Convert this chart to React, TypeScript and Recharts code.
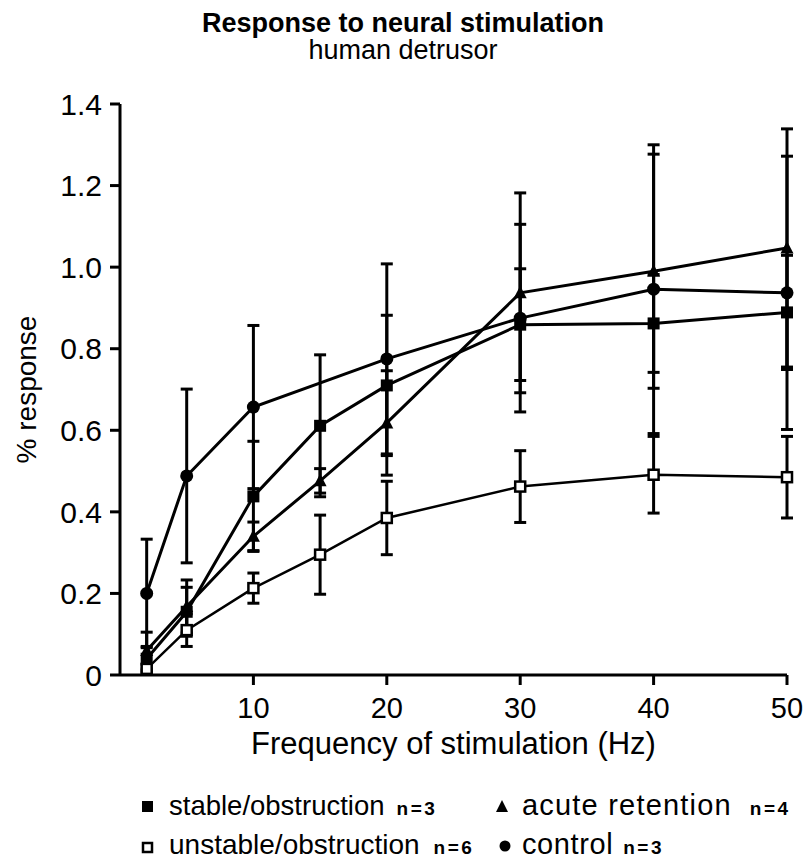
import React from 'react';
import { LineChart, Line, XAxis, YAxis, ErrorBar, Label } from 'recharts';

// ---- data ----
const frequencies = [2, 5, 10, 15, 20, 30, 40, 50];

const stableObstruction = [0.04, 0.155, 0.438, 0.611, 0.71, 0.859, 0.862, 0.889];
const stableObstructionErr = [0.03, 0.06, 0.135, 0.174, 0.172, 0.137, 0.12, 0.14];

const unstableObstruction = [0.015, 0.11, 0.213, 0.295, 0.385, 0.462, 0.491, 0.485];
const unstableObstructionErr = [0.01, 0.04, 0.037, 0.097, 0.09, 0.088, 0.094, 0.1];

const acuteRetention = [0.06, 0.168, 0.34, 0.476, 0.618, 0.937, 0.99, 1.047];
const acuteRetentionErr = [0.045, 0.065, 0.035, 0.03, 0.128, 0.245, 0.287, 0.292];

const control = [0.2, 0.488, 0.657, null, 0.775, 0.875, 0.946, 0.937];
const controlErr = [0.133, 0.213, 0.2, null, 0.233, 0.23, 0.354, 0.335];

const xTicks = [10, 20, 30, 40, 50];
const yTicks = [0, 0.2, 0.4, 0.6, 0.8, 1.0, 1.2, 1.4];

const titleText = 'Response to neural stimulation';
const subtitleText = 'human detrusor';
const xLabelText = 'Frequency of stimulation (Hz)';
const yLabelText = '% response';

const legendItems = [
  { name: 'stable/obstruction', n: 'n=3' },
  { name: 'unstable/obstruction', n: 'n=6' },
  { name: 'acute retention', n: 'n=4' },
  { name: 'control', n: 'n=3' },
];

const data = frequencies.map((f, i) => ({
  freq: f,
  stable: stableObstruction[i],
  stableErr: stableObstructionErr[i],
  unstable: unstableObstruction[i],
  unstableErr: unstableObstructionErr[i],
  acute: acuteRetention[i],
  acuteErr: acuteRetentionErr[i],
  control: control[i],
  controlErr: controlErr[i],
}));

const FONT = '"Liberation Sans", Arial, Helvetica, sans-serif';

const isBad = (p: any) => p.cx == null || p.cy == null || p.value == null || isNaN(p.cx) || isNaN(p.cy);

const dotFilledSquare = (p: any) => {
  if (isBad(p)) return <g key={`fs-${p.index}`} />;
  return <rect key={`fs-${p.index}`} x={p.cx - 6} y={p.cy - 6} width={12} height={12} fill="#000" />;
};
const dotOpenSquare = (p: any) => {
  if (isBad(p)) return <g key={`os-${p.index}`} />;
  return (
    <rect key={`os-${p.index}`} x={p.cx - 5} y={p.cy - 5} width={10} height={10} fill="#fff" stroke="#000" strokeWidth={2.5} />
  );
};
const dotTriangle = (p: any) => {
  if (isBad(p)) return <g key={`tr-${p.index}`} />;
  const { cx, cy } = p;
  return <path key={`tr-${p.index}`} d={`M${cx},${cy - 7} L${cx + 6.5},${cy + 5.5} L${cx - 6.5},${cy + 5.5} Z`} fill="#000" />;
};
const dotCircle = (p: any) => {
  if (isBad(p)) return <g key={`ci-${p.index}`} />;
  return <circle key={`ci-${p.index}`} cx={p.cx} cy={p.cy} r={6.5} fill="#000" />;
};

const yFmt = (v: number) => (v === 0 ? '0' : v.toFixed(1));

const YLabel = (props: any) => {
  const vb = props.viewBox || { x: 0, y: 104, width: 120, height: 571 };
  const cx = 26;
  const cy = vb.y + vb.height / 2;
  return (
    <text x={cx} y={cy} transform={`rotate(-90 ${cx} ${cy})`} textAnchor="middle" dy="0.35em" fontSize={28} fill="#000" fontFamily={FONT}>
      {yLabelText}
    </text>
  );
};

const XLabel = (props: any) => {
  const vb = props.viewBox || { x: 120, y: 675, width: 667, height: 80 };
  const cx = vb.x + vb.width / 2;
  return (
    <text x={cx} y={754} textAnchor="middle" fontSize={31} fill="#000" fontFamily={FONT}>
      {xLabelText}
    </text>
  );
};

const NSpan = ({ text, dx }: { text: string; dx: number }) => (
  <tspan dx={dx} fontSize={19} fontWeight="bold" letterSpacing={2.5}>
    {text}
  </tspan>
);

export default function App() {
  const tickStyle = { fontSize: 30, fill: '#000', fontFamily: FONT };
  return (
    <div style={{ position: 'absolute', left: 0, top: 0, width: 810, height: 861, background: '#fff', fontFamily: FONT }}>
      <LineChart
        width={810}
        height={861}
        data={data}
        margin={{ top: 104, right: 23, bottom: 106, left: 0 }}
        style={{ position: 'absolute', left: 0, top: 0 }}
      >
        <XAxis
          dataKey="freq"
          type="number"
          domain={[0, 50]}
          ticks={xTicks}
          height={80}
          tick={{ ...tickStyle, fontSize: 29 }}
          tickSize={10}
          tickMargin={12}
          axisLine={{ stroke: '#000', strokeWidth: 3 }}
          tickLine={{ stroke: '#000', strokeWidth: 3 }}
          allowDecimals={false}
        >
          <Label content={XLabel} />
        </XAxis>
        <YAxis
          type="number"
          domain={[0, 1.4]}
          ticks={yTicks}
          width={120}
          tick={tickStyle}
          tickFormatter={yFmt}
          tickSize={10}
          tickMargin={8}
          axisLine={{ stroke: '#000', strokeWidth: 3 }}
          tickLine={{ stroke: '#000', strokeWidth: 3 }}
        >
          <Label content={YLabel} />
        </YAxis>
        <Line type="linear" dataKey="unstable" stroke="#000" strokeWidth={2.5} dot={dotOpenSquare} isAnimationActive={false} connectNulls>
          <ErrorBar dataKey="unstableErr" width={6} strokeWidth={3} stroke="#000" direction="y" />
        </Line>
        <Line type="linear" dataKey="acute" stroke="#000" strokeWidth={3} dot={dotTriangle} isAnimationActive={false} connectNulls>
          <ErrorBar dataKey="acuteErr" width={6} strokeWidth={3} stroke="#000" direction="y" />
        </Line>
        <Line type="linear" dataKey="stable" stroke="#000" strokeWidth={3} dot={dotFilledSquare} isAnimationActive={false} connectNulls>
          <ErrorBar dataKey="stableErr" width={6} strokeWidth={3} stroke="#000" direction="y" />
        </Line>
        <Line type="linear" dataKey="control" stroke="#000" strokeWidth={3} dot={dotCircle} isAnimationActive={false} connectNulls>
          <ErrorBar dataKey="controlErr" width={6} strokeWidth={3} stroke="#000" direction="y" />
        </Line>
      </LineChart>
      <svg width={810} height={861} style={{ position: 'absolute', left: 0, top: 0, pointerEvents: 'none' }}>
        <text x={403} y={32} textAnchor="middle" fontSize={27} fontWeight="bold" fill="#000" fontFamily={FONT}>
          {titleText}
        </text>
        <text x={403} y={59} textAnchor="middle" fontSize={27} fill="#000" fontFamily={FONT}>
          {subtitleText}
        </text>
        {/* legend */}
        <rect x={142} y={801} width={11} height={11} fill="#000" />
        <text x={169} y={815} fontSize={27.5} fill="#000" fontFamily={FONT}>
          {legendItems[0].name}
          <NSpan text={legendItems[0].n} dx={12} />
        </text>
        <rect x={143} y={843} width={9} height={9} fill="#fff" stroke="#000" strokeWidth={2.5} />
        <text x={169} y={854} fontSize={28} fill="#000" fontFamily={FONT}>
          {legendItems[1].name}
          <NSpan text={legendItems[1].n} dx={14} />
        </text>
        <path d="M502,800 L508,812 L496,812 Z" fill="#000" />
        <text x={522} y={815} fontSize={29} letterSpacing={1.2} fill="#000" fontFamily={FONT}>
          {legendItems[2].name}
          <NSpan text={legendItems[2].n} dx={18} />
        </text>
        <circle cx={505} cy={846} r={5.5} fill="#000" />
        <text x={522} y={854} fontSize={29} letterSpacing={0.6} fill="#000" fontFamily={FONT}>
          {legendItems[3].name}
          <NSpan text={legendItems[3].n} dx={10} />
        </text>
      </svg>
    </div>
  );
}
